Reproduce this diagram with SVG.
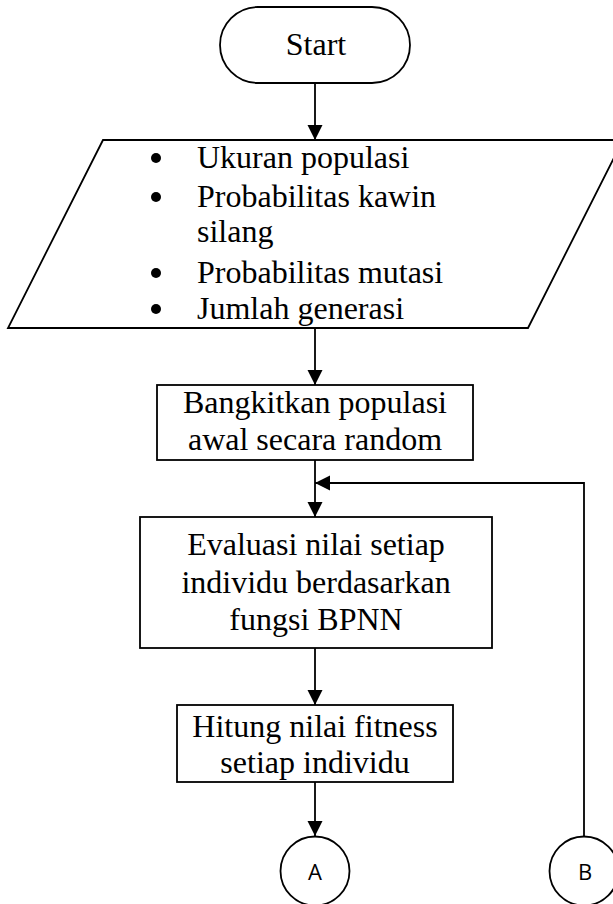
<svg xmlns="http://www.w3.org/2000/svg" width="613" height="904" viewBox="0 0 613 904">
  <style>
    .shape { fill: #ffffff; stroke: #000000; stroke-width: 1.8; }
    .line { fill: none; stroke: #000000; stroke-width: 1.8; }
    .txt { font-family: "Liberation Serif", "Times New Roman", serif; font-size: 32px; fill: #000000; }
    .mid { text-anchor: middle; }
    .conn { font-family: "Open Sans", "Noto Sans", "Liberation Sans", sans-serif; font-size: 22px; fill: #000000; text-anchor: middle; }
  </style>
  <defs>
    <marker id="arrow" markerUnits="userSpaceOnUse" markerWidth="16" markerHeight="16" viewBox="0 0 16 16" refX="15" refY="8" orient="auto">
      <path d="M0,0.5 L15,8 L0,15.5 Z" fill="#000000"/>
    </marker>
  </defs>

  <!-- connectors -->
  <g id="connectors">
    <line class="line" x1="315" y1="83" x2="315" y2="140" marker-end="url(#arrow)"/>
    <line class="line" x1="315" y1="328" x2="315" y2="385" marker-end="url(#arrow)"/>
    <line class="line" x1="315" y1="460" x2="315" y2="517" marker-end="url(#arrow)"/>
    <line class="line" x1="315" y1="648" x2="315" y2="705" marker-end="url(#arrow)"/>
    <line class="line" x1="315" y1="782" x2="315" y2="836" marker-end="url(#arrow)"/>
    <!-- loop back from connector B -->
    <polyline class="line" points="584,836 584,483 315,483" marker-end="url(#arrow)"/>
  </g>

  <!-- terminator -->
  <g id="start">
    <rect class="shape" x="220" y="7" width="190" height="76" rx="38" ry="38"/>
    <text class="txt mid" x="316" y="55">Start</text>
  </g>

  <!-- input parameters -->
  <g id="input">
    <polygon class="shape" points="103,140 623,140 528,328 8,328"/>
    <circle cx="156" cy="158" r="5"/>
    <circle cx="156" cy="197" r="5"/>
    <circle cx="156" cy="273" r="5"/>
    <circle cx="156" cy="309" r="5"/>
    <text class="txt" x="197" y="168">Ukuran populasi</text>
    <text class="txt" x="197" y="207">Probabilitas kawin</text>
    <text class="txt" x="197" y="242">silang</text>
    <text class="txt" x="197" y="283">Probabilitas mutasi</text>
    <text class="txt" x="197" y="319">Jumlah generasi</text>
  </g>

  <!-- initial population -->
  <g id="init">
    <rect class="shape" x="157" y="385" width="316" height="75"/>
    <text class="txt mid" x="315" y="413">Bangkitkan populasi</text>
    <text class="txt mid" x="315" y="450">awal secara random</text>
  </g>

  <!-- evaluation -->
  <g id="evaluate">
    <rect class="shape" x="140" y="517" width="352" height="131"/>
    <text class="txt mid" x="316" y="555">Evaluasi nilai setiap</text>
    <text class="txt mid" x="316" y="593">individu berdasarkan</text>
    <text class="txt mid" x="316" y="630">fungsi BPNN</text>
  </g>

  <!-- fitness -->
  <g id="fitness">
    <rect class="shape" x="177" y="705" width="276" height="77"/>
    <text class="txt mid" x="315" y="737">Hitung nilai fitness</text>
    <text class="txt mid" x="315" y="773">setiap individu</text>
  </g>

  <!-- off-page connectors -->
  <g id="conn-a">
    <circle class="shape" cx="315" cy="871" r="34.5"/>
    <text class="conn" x="315" y="880">A</text>
  </g>
  <g id="conn-b">
    <circle class="shape" cx="584" cy="871" r="34.5"/>
    <text class="conn" x="585" y="880">B</text>
  </g>
</svg>
